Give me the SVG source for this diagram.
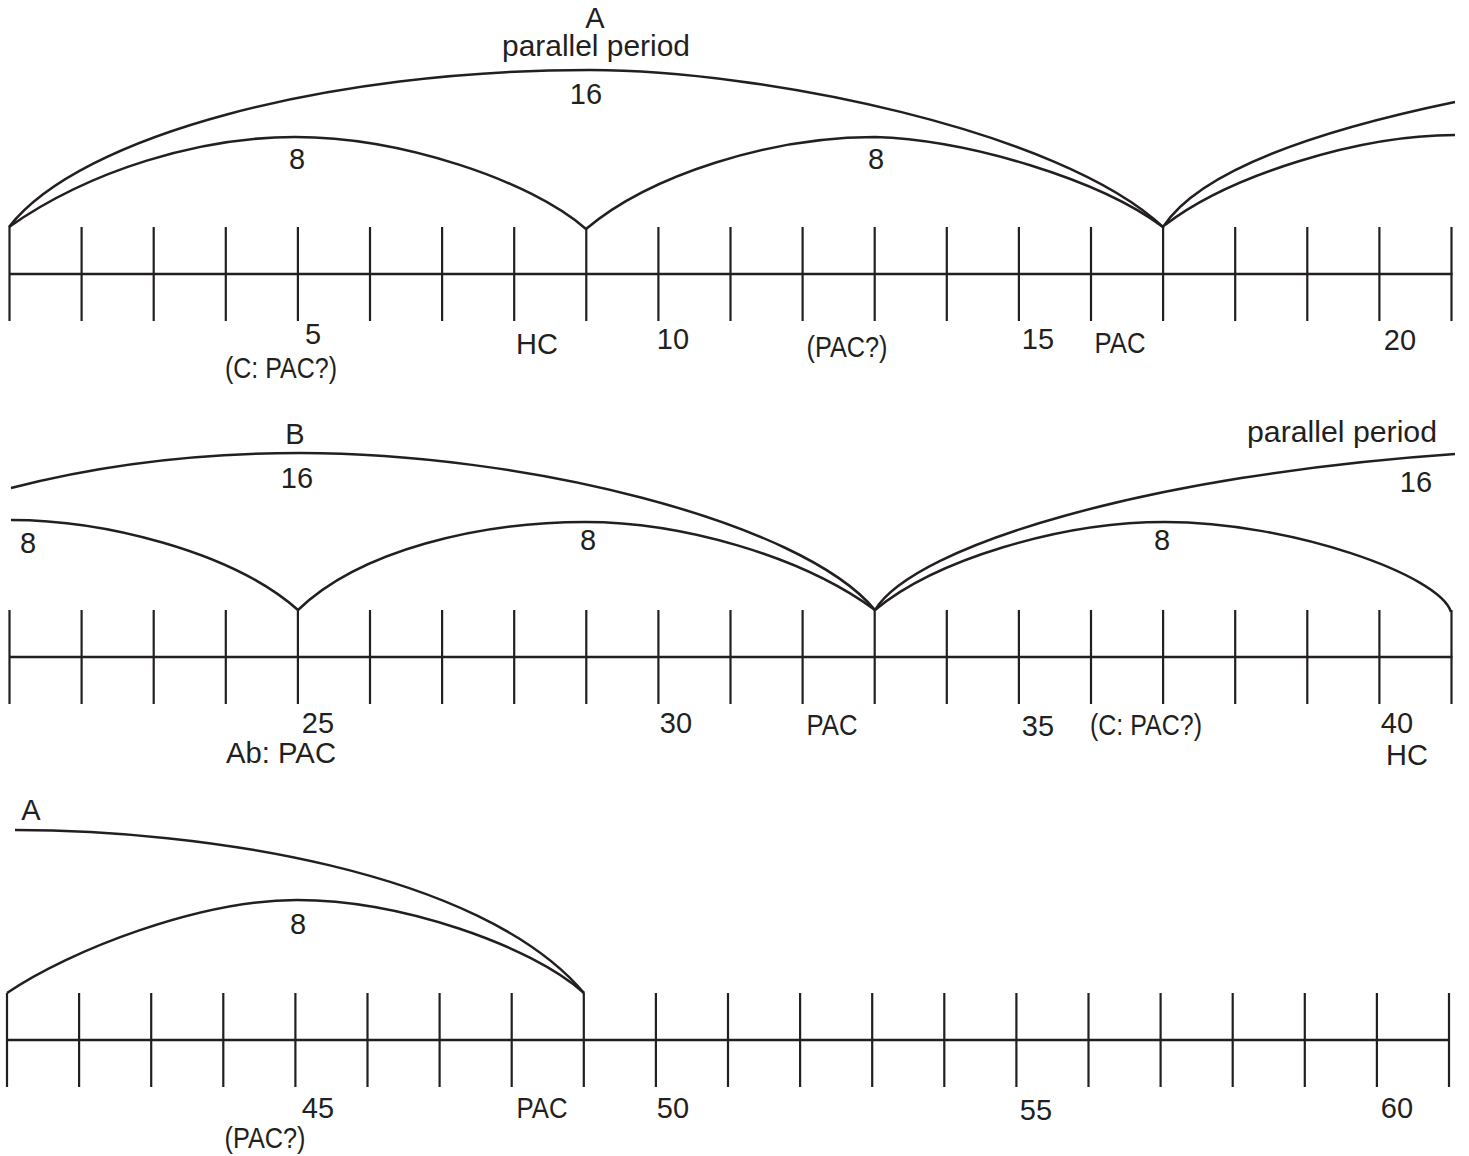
<svg xmlns="http://www.w3.org/2000/svg" width="1469" height="1156" viewBox="0 0 1469 1156">
<style>
.ln{stroke:#231f20;stroke-width:2.5;fill:none}
.tk{stroke:#231f20;stroke-width:2.2;fill:none}
.arc{stroke:#231f20;stroke-width:2.5;fill:none}
text{font-family:"Liberation Sans",Arial,sans-serif;font-size:29px;fill:#231f20;text-anchor:middle}
</style>
<rect width="1469" height="1156" fill="#fff"/>
<defs>
<g id="ticks">
<path class="tk" d="M0,-47V47M72.1,-47V47M144.2,-47V47M216.3,-47V47M288.4,-47V47M360.5,-47V47M432.6,-47V47M504.7,-47V47M576.8,-47V47M648.9,-47V47M721,-47V47M793.1,-47V47M865.2,-47V47M937.3,-47V47M1009.4,-47V47M1081.5,-47V47M1153.6,-47V47M1225.7,-47V47M1297.8,-47V47M1369.9,-47V47M1442,-47V47"/>
<path class="ln" d="M0,0H1443"/>
</g>
</defs>
<g id="timeline1"><use href="#ticks" x="9.5" y="274"/></g>
<g id="timeline2"><use href="#ticks" x="9.5" y="657"/></g>
<g id="timeline3"><use href="#ticks" x="7" y="1040"/></g>
<g id="connectors">
<path class="arc" d="M9,227 C80,135 330,70 590,70 C760,70 1060,130 1163,227"/>
<path class="arc" d="M9,227 C90,170 200,137 295,137 C400,137 530,180 586,229"/>
<path class="arc" d="M586,229 C650,175 770,137 875,137 C970,140 1100,180 1163,227"/>
<path class="arc" d="M1163,227 C1200,170 1320,130 1455,102"/>
<path class="arc" d="M1165,225 C1230,175 1360,135 1455,135"/>
<path class="arc" d="M11,488 C100,465 200,453 300,453 C520,453 800,520 875,610"/>
<path class="arc" d="M11,520 C100,520 230,550 298,610"/>
<path class="arc" d="M298,610 C360,550 480,522 585,522 C680,522 800,555 875,610"/>
<path class="arc" d="M875,610 C935,560 1060,522 1165,522 C1290,522 1440,575 1451,612"/>
<path class="arc" d="M875,610 C915,545 1150,475 1455,454"/>
<path class="arc" d="M15,830 C200,830 480,870 584,993"/>
<path class="arc" d="M7,993 C70,950 200,900 297,900 C400,900 530,945 584,993"/>
</g>
<g id="labels1">
<text x="595" y="28">A</text>
<text x="596" y="56" textLength="188" lengthAdjust="spacingAndGlyphs">parallel period</text>
<text x="586" y="104">16</text>
<text x="297" y="169">8</text>
<text x="876" y="169">8</text>
<text x="313" y="344">5</text>
<text x="281" y="378" textLength="112" lengthAdjust="spacingAndGlyphs">(C: PAC?)</text>
<text x="537" y="354">HC</text>
<text x="673" y="349">10</text>
<text x="847" y="357" textLength="81" lengthAdjust="spacingAndGlyphs">(PAC?)</text>
<text x="1038" y="349">15</text>
<text x="1120" y="353" textLength="51" lengthAdjust="spacingAndGlyphs">PAC</text>
<text x="1400" y="350">20</text>
</g>
<g id="labels2">
<text x="295" y="444">B</text>
<text x="297" y="488">16</text>
<text x="28" y="553">8</text>
<text x="588" y="550">8</text>
<text x="1162" y="550">8</text>
<text x="1342" y="442" textLength="190" lengthAdjust="spacingAndGlyphs">parallel period</text>
<text x="1416" y="492">16</text>
<text x="318" y="733">25</text>
<text x="281" y="763" textLength="110" lengthAdjust="spacingAndGlyphs">Ab: PAC</text>
<text x="676" y="733">30</text>
<text x="832" y="735" textLength="51" lengthAdjust="spacingAndGlyphs">PAC</text>
<text x="1038" y="736">35</text>
<text x="1146" y="735" textLength="112" lengthAdjust="spacingAndGlyphs">(C: PAC?)</text>
<text x="1397" y="733">40</text>
<text x="1407" y="765">HC</text>
</g>
<g id="labels3">
<text x="31" y="820">A</text>
<text x="298" y="934">8</text>
<text x="318" y="1118">45</text>
<text x="265" y="1148" textLength="81" lengthAdjust="spacingAndGlyphs">(PAC?)</text>
<text x="542" y="1118" textLength="51" lengthAdjust="spacingAndGlyphs">PAC</text>
<text x="673" y="1118">50</text>
<text x="1036" y="1120">55</text>
<text x="1397" y="1118">60</text>
</g>
</svg>
